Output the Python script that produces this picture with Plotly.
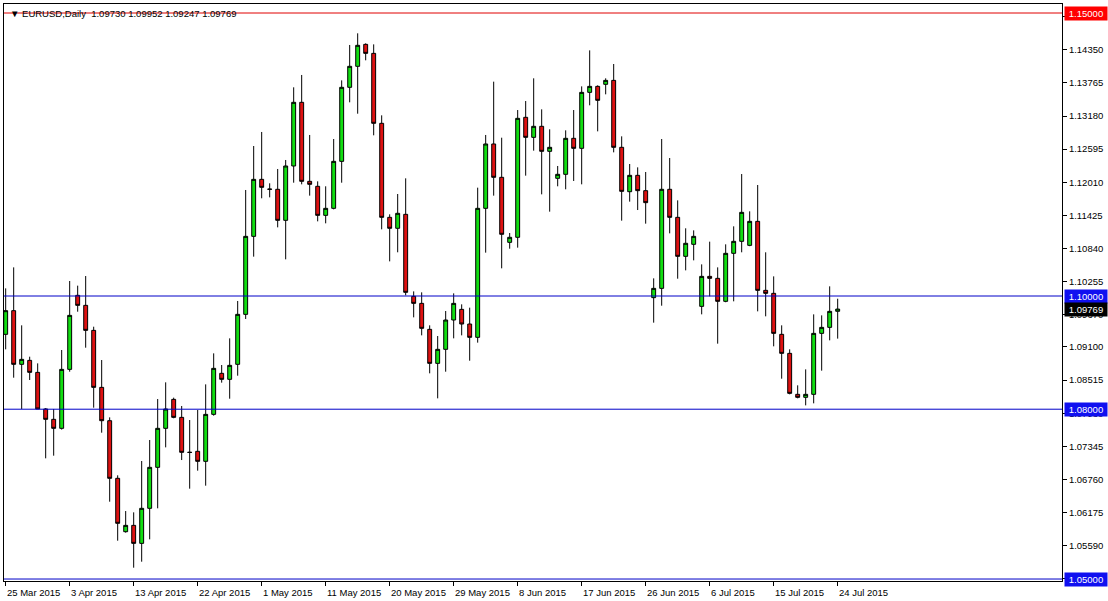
import plotly.graph_objects as go

# ---- data (EURUSD daily) ----
opens = [1.09323, 1.09741, 1.08793, 1.08863, 1.08651, 1.08004, 1.07821, 1.07662, 1.08704, 1.10012,
         1.09835, 1.09393, 1.08386, 1.07797, 1.06779, 1.05836, 1.05948, 1.05630, 1.06249, 1.06973,
         1.07662, 1.08174, 1.07856, 1.07240, 1.07256, 1.07079, 1.07909, 1.08634, 1.08528, 1.08793,
         1.09676, 1.11054, 1.12061, 1.11890, 1.11885, 1.11337, 1.12297, 1.13422, 1.12026, 1.11938,
         1.11425, 1.11549, 1.12379, 1.13687, 1.14058, 1.14446, 1.14287, 1.13051, 1.11390, 1.11196,
         1.11443, 1.09994, 1.09870, 1.09411, 1.08810, 1.09058, 1.09576, 1.09764, 1.09505, 1.09270,
         1.11549, 1.12686, 1.12097, 1.10948, 1.11037, 1.13157, 1.12803, 1.12998, 1.12556, 1.12079,
         1.12150, 1.12786, 1.12609, 1.13598, 1.13704, 1.13740, 1.13810, 1.12627, 1.11843, 1.12132,
         1.11861, 1.09971, 1.10135, 1.11885, 1.11390, 1.10701, 1.10913, 1.09817, 1.10347, 1.10312,
         1.09906, 1.10754, 1.10966, 1.10895, 1.11319, 1.10100, 1.10047, 1.09323, 1.08987, 1.08263,
         1.08210, 1.08263, 1.09340, 1.09446, 1.09730]
highs = [1.10135, 1.10506, 1.09482, 1.08928, 1.08810, 1.08020, 1.08004, 1.09046, 1.10265, 1.10183,
         1.10353, 1.09458, 1.08869, 1.07856, 1.06832, 1.06201, 1.06178, 1.07085, 1.07456, 1.08180,
         1.08475, 1.08204, 1.08057, 1.07809, 1.07986, 1.08439, 1.08987, 1.08781, 1.09252, 1.09912,
         1.11873, 1.12650, 1.12898, 1.11991, 1.12244, 1.12403, 1.13687, 1.13905, 1.12845, 1.12026,
         1.11938, 1.12774, 1.13810, 1.14435, 1.14641, 1.14464, 1.14446, 1.13192, 1.11443, 1.11802,
         1.12079, 1.10082, 1.10065, 1.09482, 1.09293, 1.09735, 1.10047, 1.09853, 1.09794, 1.11914,
         1.12845, 1.13787, 1.12797, 1.11113, 1.13286, 1.13445, 1.13846, 1.13298, 1.12945, 1.12297,
         1.12927, 1.13286, 1.13704, 1.14340, 1.13722, 1.13846, 1.14099, 1.12821, 1.12332, 1.12273,
         1.12191, 1.10312, 1.12774, 1.12438, 1.11690, 1.11196, 1.11160, 1.10559, 1.10960, 1.10506,
         1.10913, 1.11231, 1.12155, 1.11496, 1.11961, 1.10772, 1.10347, 1.09482, 1.09058, 1.08422,
         1.08704, 1.09676, 1.09658, 1.10171, 1.09952]
lows = [1.09058, 1.08557, 1.08004, 1.08516, 1.08004, 1.07132, 1.07179, 1.07640, 1.08663, 1.09723,
        1.09087, 1.08027, 1.07585, 1.06366, 1.05677, 1.05819, 1.05200, 1.05306, 1.05701, 1.06249,
        1.07326, 1.07840, 1.07102, 1.06596, 1.06914, 1.06649, 1.07886, 1.08469, 1.08186, 1.08592,
        1.09594, 1.10695, 1.11726, 1.11743, 1.11213, 1.10648, 1.12002, 1.11973, 1.11773, 1.11319,
        1.11284, 1.11531, 1.12002, 1.13422, 1.13221, 1.14164, 1.12839, 1.11178, 1.10612, 1.10772,
        1.10012, 1.09623, 1.09305, 1.08634, 1.08192, 1.08663, 1.09252, 1.09305, 1.08857, 1.09176,
        1.10766, 1.11773, 1.10489, 1.10836, 1.10854, 1.12126, 1.12568, 1.11796, 1.11490, 1.11938,
        1.11885, 1.12032, 1.11973, 1.13369, 1.12909, 1.13563, 1.12538, 1.11331, 1.11667, 1.11519,
        1.11278, 1.09529, 1.09829, 1.11107, 1.10306, 1.10453, 1.10630, 1.09676, 1.09994, 1.09158,
        1.09890, 1.09906, 1.10772, 1.10880, 1.09729, 1.09641, 1.09111, 1.08539, 1.08263, 1.08192,
        1.08068, 1.08104, 1.08681, 1.09217, 1.09247]
closes = [1.09741, 1.08793, 1.08881, 1.08651, 1.08004, 1.07821, 1.07662, 1.08704, 1.09658, 1.09835,
          1.09393, 1.08386, 1.07797, 1.06779, 1.05984, 1.05948, 1.05630, 1.06249, 1.06973, 1.07662,
          1.08004, 1.07856, 1.07238, 1.07236, 1.07079, 1.07909, 1.08722, 1.08528, 1.08775, 1.09676,
          1.11054, 1.12061, 1.11920, 1.11885, 1.11337, 1.12297, 1.13422, 1.12026, 1.11973, 1.11425,
          1.11549, 1.12379, 1.13687, 1.14058, 1.14429, 1.14287, 1.13051, 1.11390, 1.11196, 1.11461,
          1.10065, 1.09870, 1.09429, 1.08810, 1.09058, 1.09576, 1.09870, 1.09505, 1.09270, 1.11549,
          1.12686, 1.12097, 1.11090, 1.11037, 1.13139, 1.12803, 1.12998, 1.12556, 1.12627, 1.12150,
          1.12786, 1.12609, 1.13598, 1.13704, 1.13457, 1.13810, 1.12627, 1.11849, 1.12132, 1.11861,
          1.11649, 1.10135, 1.11885, 1.11390, 1.10701, 1.10931, 1.11054, 1.10347, 1.10312, 1.09906,
          1.10754, 1.10966, 1.11478, 1.11319, 1.10100, 1.10047, 1.09340, 1.08987, 1.08280, 1.08210,
          1.08263, 1.09340, 1.09446, 1.09729, 1.09769]
bar_index = list(range(len(opens)))

date_tick_index = [0, 8, 16, 24, 32, 40, 48, 56, 64, 72, 80, 88, 96, 104]
date_tick_labels = ["25 Mar 2015", "3 Apr 2015", "13 Apr 2015", "22 Apr 2015", "1 May 2015",
                    "11 May 2015", "20 May 2015", "29 May 2015", "8 Jun 2015", "17 Jun 2015",
                    "26 Jun 2015", "6 Jul 2015", "15 Jul 2015", "24 Jul 2015"]

price_ticks = [1.14935, 1.14350, 1.13765, 1.13180, 1.12595, 1.12010, 1.11425, 1.10840, 1.10255,
               1.09670, 1.09100, 1.08515, 1.07930, 1.07345, 1.06760, 1.06175, 1.05590, 1.05005]
price_tick_labels = ["%.5f" % v for v in price_ticks]

level_prices = [1.15, 1.10, 1.08, 1.05]
level_colors = ["#E00000", "#0000C8", "#0000C8", "#0000C8"]
level_label_bg = ["#FF0000", "#1010F0", "#1010F0", "#1010F0"]

header_text = "\u25BC EURUSD,Daily\u00a0\u00a01.09730 1.09952 1.09247 1.09769"
last_price = closes[-1]

FONT = "Liberation Sans, Arial, sans-serif"

fig = go.Figure()
fig.add_trace(go.Candlestick(
    x=bar_index, open=opens, high=highs, low=lows, close=closes,
    increasing=dict(fillcolor="#11DD11", line=dict(color="#000000", width=1)),
    decreasing=dict(fillcolor="#DD1111", line=dict(color="#000000", width=1)),
    whiskerwidth=0, showlegend=False, hoverinfo="skip",
))

shapes = []
for p, c in zip(level_prices, level_colors):
    shapes.append(dict(type="line", xref="paper", x0=0, x1=1, yref="y", y0=p, y1=p,
                       line=dict(color=c, width=1), layer="above"))

annotations = []
for p, bg in zip(level_prices, level_label_bg):
    annotations.append(dict(xref="paper", x=1, xanchor="left", xshift=2, yref="y", y=p,
                            yanchor="middle", text="%.5f" % p, showarrow=False,
                            bgcolor=bg, font=dict(color="white", size=9.5, family=FONT),
                            width=40, height=11, align="center", borderpad=1))
annotations.append(dict(xref="paper", x=1, xanchor="left", xshift=2, yref="y", y=last_price,
                        yanchor="middle", text="%.5f" % last_price, showarrow=False,
                        bgcolor="#000000", font=dict(color="white", size=9.5, family=FONT),
                        width=40, height=11, align="center", borderpad=1))
for xi, lab in zip(date_tick_index, date_tick_labels):
    annotations.append(dict(xref="x", x=xi, xanchor="left", xshift=-1, yref="paper", y=0,
                            yanchor="top", yshift=-4, text=lab, showarrow=False,
                            font=dict(color="black", size=9.5, family=FONT)))
annotations.append(dict(xref="paper", x=0, xanchor="left", xshift=4, yref="paper", y=1,
                        yanchor="top", yshift=-2, text=header_text, showarrow=False,
                        font=dict(color="black", size=9.5, family=FONT)))

fig.update_layout(
    width=1108, height=601,
    margin=dict(l=4, r=46, t=4, b=20),
    paper_bgcolor="white", plot_bgcolor="white",
    showlegend=False,
    shapes=shapes, annotations=annotations,
    xaxis=dict(range=[-0.21, 132.04], tickvals=date_tick_index, showticklabels=False,
               ticks="outside", ticklen=4, tickcolor="black", showgrid=False, zeroline=False,
               showline=True, linecolor="black", linewidth=1, mirror=True,
               rangeslider=dict(visible=False), fixedrange=True),
    yaxis=dict(range=[1.04965, 1.15159], side="right", tickvals=price_ticks,
               ticktext=price_tick_labels, ticks="outside", ticklen=4, tickcolor="black",
               tickfont=dict(size=9.5, color="black", family=FONT),
               showgrid=False, zeroline=False, showline=True, linecolor="black",
               linewidth=1, mirror=True, fixedrange=True),
)

fig.write_html("out.html", config={"displayModeBar": False},
               post_script="document.body.style.margin='0';document.body.style.overflow='hidden';")
